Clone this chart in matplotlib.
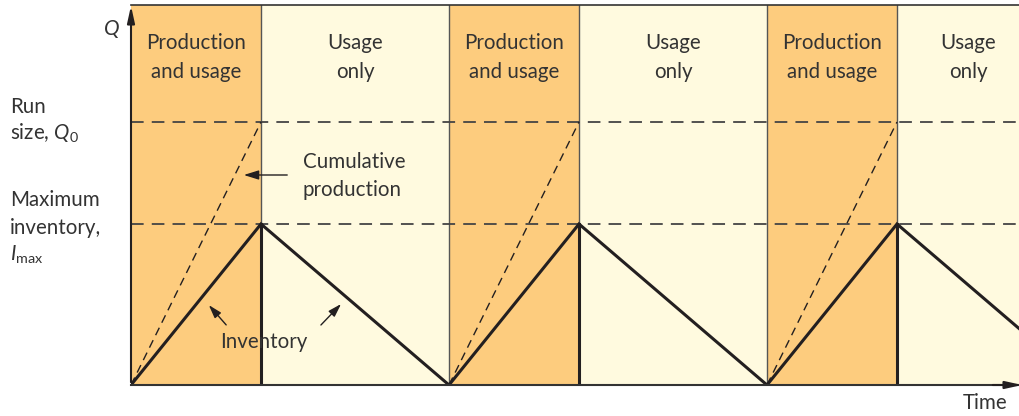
import matplotlib.pyplot as plt

plt.rcParams["font.family"] = ["Lato", "DejaVu Sans"]
plt.rcParams["mathtext.fontset"] = "custom"
plt.rcParams["mathtext.rm"] = "Lato"
plt.rcParams["mathtext.it"] = "Lato:italic"

# phase boundaries (time) and kinds
phase_bounds = [0, 1.30, 3.18, 4.48, 6.36, 7.66, 9.54]
phase_kind = ["prod", "use", "prod", "use", "prod", "use"]
phase_text = {"prod": "Production\nand usage", "use": "Usage\nonly"}
label_x = [0.65, 2.24, 3.83, 5.42, 7.01, 8.37]

# inventory level over time
inv_t = [0, 1.30, 3.18, 4.48, 6.36, 7.66, 9.54]
inv_q = [0, 1.61, 0, 1.61, 0, 1.61, 0]

run_size = 2.63
i_max = 1.61
x_end = 8.89
y_top = 3.8

prod_col = "#fdcc7e"
use_col = "#fffadf"
ink = "#231f20"
grey = "#444444"
txt = "#333333"
fs = 14.8

fig = plt.figure(figsize=(10.2, 4.16), dpi=100)
ax = fig.add_axes([131 / 1020, 31 / 416, 889 / 1020, 380 / 416])
ax.set_xlim(0, x_end)
ax.set_ylim(0, y_top)
ax.axis("off")

for i, kind in enumerate(phase_kind):
    a, b = phase_bounds[i], phase_bounds[i + 1]
    ax.axvspan(a, b, color=prod_col if kind == "prod" else use_col, lw=0, zorder=0)
    if i > 0:
        ax.plot([a, a], [0, y_top], color="#555555", lw=1.0, zorder=1)
    ax.text(label_x[i], 3.275, phase_text[kind], ha="center", va="center", fontsize=fs,
            color=txt, linespacing=1.55, zorder=5)

# horizontal reference lines
for yy in (run_size, i_max):
    ax.plot([0, x_end], [yy, yy], color=grey, lw=1.3, dashes=(7, 4.5), zorder=2)

# cumulative production lines
for i, kind in enumerate(phase_kind):
    if kind == "prod":
        ax.plot([phase_bounds[i], phase_bounds[i + 1]], [0, run_size], color=ink,
                lw=1.0, dashes=(6, 4), zorder=3)
        # drop at end of production run
        ax.plot([phase_bounds[i + 1]] * 2, [0, i_max], color=ink, lw=2.2, zorder=4)

ax.plot(inv_t, inv_q, color=ink, lw=2.2, zorder=4, solid_joinstyle="miter")

# frame: top border and axes with arrows
ax.plot([0, x_end], [y_top, y_top], color="#333333", lw=1.2, clip_on=False, zorder=6)
ax.plot([0, x_end], [0, 0], color="#333333", lw=1.5, clip_on=False, zorder=6)
ax.annotate("", xy=(0, y_top + 0.02), xytext=(0, 0), xycoords="data",
            arrowprops=dict(arrowstyle="-|>,head_length=1.0,head_width=0.22", color=ink, lw=1.5),
            annotation_clip=False, zorder=7)
ax.annotate("", xy=(x_end + 0.05, 0), xytext=(x_end - 0.3, 0),
            arrowprops=dict(arrowstyle="-|>,head_length=1.0,head_width=0.22", color=ink, lw=1.5),
            annotation_clip=False, zorder=7)

ax.text(-0.19, 3.56, "Q", fontsize=15, style="italic", ha="center", va="center", color=txt)
ax.text(8.54, -0.18, "Time", fontsize=fs, ha="center", va="center", color=txt)

# left labels
left_x = -1.21
ax.text(left_x, 2.78, "Run", fontsize=fs, ha="left", va="center", color=txt)
ax.text(left_x, 2.52, "size, $Q_0$", fontsize=fs, ha="left", va="center", color=txt)
ax.text(left_x, 1.85, "Maximum", fontsize=fs, ha="left", va="center", color=txt)
ax.text(left_x, 1.57, "inventory,", fontsize=fs, ha="left", va="center", color=txt)
ax.text(left_x, 1.30, r"$I_{\mathrm{max}}$", fontsize=fs, ha="left", va="center", color=txt)

# annotations
ax.text(1.72, 2.09, "Cumulative\nproduction", fontsize=fs, ha="left", va="center",
        color=txt, linespacing=1.5, zorder=5)
ax.annotate("", xy=(1.10, 2.10), xytext=(1.59, 2.10),
            arrowprops=dict(arrowstyle="-|>,head_length=0.9,head_width=0.28", color=ink, lw=1.0),
            zorder=5)
ax.text(1.33, 0.43, "Inventory", fontsize=fs, ha="center", va="center", color=txt, zorder=5)
ax.annotate("", xy=(0.76, 0.82), xytext=(0.97, 0.58),
            arrowprops=dict(arrowstyle="-|>,head_length=0.8,head_width=0.25", color=ink, lw=1.0),
            zorder=5)
ax.annotate("", xy=(2.12, 0.83), xytext=(1.88, 0.58),
            arrowprops=dict(arrowstyle="-|>,head_length=0.8,head_width=0.25", color=ink, lw=1.0),
            zorder=5)

fig.savefig("out.png", dpi=100)
